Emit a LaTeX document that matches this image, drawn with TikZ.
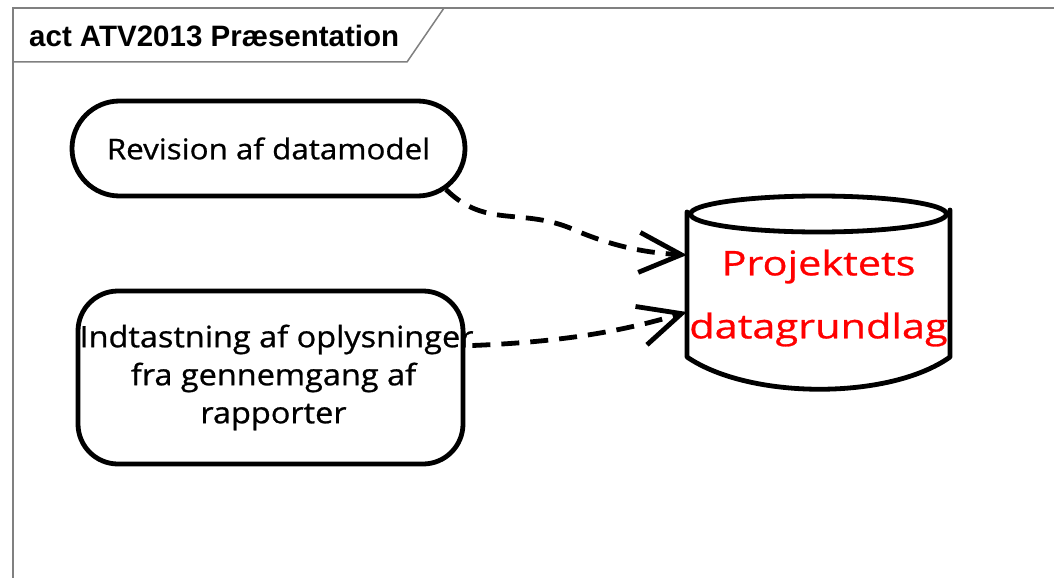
\documentclass[tikz,border=0pt]{standalone}
\usepackage{fontspec}
\setmainfont{Liberation Sans}
\newfontfamily\handfont[FakeStretch=1.1,FakeBold=0.8]{Open Sans}
\newfontfamily\handwidefont[FakeStretch=1.22,FakeBold=0.8]{Open Sans}
\usetikzlibrary{arrows.meta,shapes.misc}
\definecolor{framegray}{RGB}{128,128,128}
\definecolor{dbred}{RGB}{255,0,0}
\begin{document}
\begin{tikzpicture}[x=1pt,y=-1pt,
  frameline/.style={draw=framegray, line width=1.5pt},
  sketch/.style={draw=black, line width=4.8pt, line join=round, line cap=round},
  handtext/.style={font=\handfont\fontsize{28.5}{36}\selectfont, align=center, inner sep=0pt},
  flow/.style={line width=4.8pt, dash pattern=on 18pt off 11pt,
    -{Straight Barb[length=42pt,width=40pt,line width=4.8pt]}}]
\useasboundingbox (0,0) rectangle (1054,578);
\fill[white] (0,0) rectangle (1054,578);
% frame
\draw[frameline] (1054,8) -- (13,8) -- (13,578);
\draw[frameline] (13,62) -- (407,62) -- (444,8);
\node[anchor=base west, inner sep=0pt, font=\bfseries\fontsize{29.5}{34}\selectfont] (title) at (29,47) {act ATV2013 Præsentation};
% node 1
\node[sketch, handtext, rounded rectangle, minimum width=393pt, minimum height=95pt] (n1) at (268.5,148.5) {Revision af datamodel};
% node 2
\node[sketch, handtext, font=\handfont\fontsize{29.5}{38}\selectfont, rounded corners=40pt, minimum width=385pt, minimum height=173pt] (n2) at (270.5,377.5)
  {\makebox[0pt]{\hspace{12pt}Indtastning af oplysninger}\\\makebox[0pt]{\hspace{6pt}fra gennemgang af}\\\makebox[0pt]{\hspace{6pt}rapporter}};
% datastore
\node[handtext, text=dbred, font=\handwidefont\fontsize{34}{63}\selectfont, minimum width=263pt, minimum height=180pt] (db) at (818.5,298)
  {\makebox[0pt]{Projektets}\\\makebox[0pt]{datagrundlag}};
\draw[sketch] (818.5,214) ellipse [x radius=128pt, y radius=18pt];
\draw[sketch] (687,212) -- (687,357) .. controls (750,400) and (890,400) .. (950,357) -- (950,210);
% connectors
\coordinate (e1) at ([yshift=43pt]db.west);
\coordinate (e2) at ([yshift=-14pt]db.west);
\coordinate (s2) at ([xshift=7pt,yshift=32pt]n2.east);
\draw[flow] (n1.-13) .. controls (485,228) and (520,208) .. (570,228) .. controls (615,248) and (650,253) .. (e1);
\draw[flow] (s2) .. controls (560,342) and (620,332) .. (e2);
\end{tikzpicture}
\end{document}
